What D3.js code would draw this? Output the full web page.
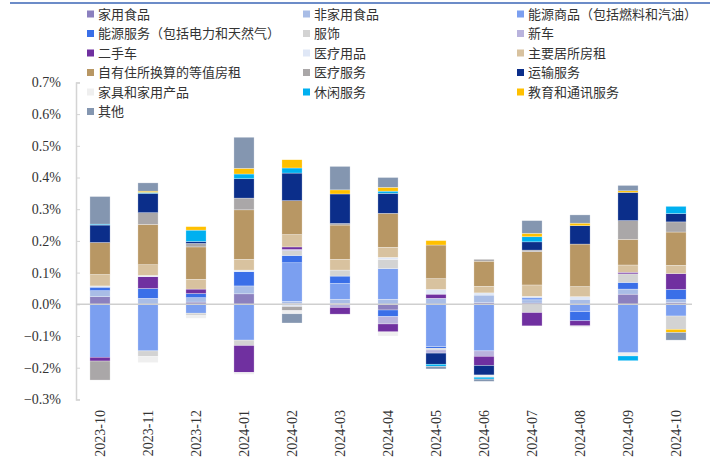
<!DOCTYPE html>
<html>
<head>
<meta charset="utf-8">
<script src="https://cdn.jsdelivr.net/npm/d3@7"></script>
<style>
    body { margin: 0; background: #fff; }
    .axis-num { font-family: "Liberation Serif", "Times New Roman", serif; font-size: 14px; fill: #333; }
    .legend-text { font-family: "Noto Sans CJK SC", sans-serif; font-size: 13px; fill: #333; }
</style>
</head>
<body>
<svg id="chart" width="715" height="461"></svg>
<script>
const months = ["2023-10", "2023-11", "2023-12", "2024-01", "2024-02", "2024-03", "2024-04",
    "2024-05", "2024-06", "2024-07", "2024-08", "2024-09", "2024-10"];

const categories = ["家用食品", "非家用食品", "能源商品（包括燃料和汽油）", "能源服务（包括电力和天然气）",
    "服饰", "新车", "二手车", "医疗用品", "主要居所房租", "自有住所换算的等值房租", "医疗服务",
    "运输服务", "家具和家用产品", "休闲服务", "教育和通讯服务", "其他"];

const colors = ["#8b80bf", "#a9bde6", "#7b9ff0", "#3a6fe8", "#d3d3d3", "#b9b3dd", "#7030a0", "#dfe7f6",
    "#d8c29f", "#b89764", "#aaa7a8", "#0b2e8a", "#efefef", "#00b0f0", "#ffc000", "#8496b0"];

// contributions in percentage points, one array per category
const homeFood    = [0.024, 0, 0.007, 0.033, 0.003, 0.003, -0.018, 0, 0.005, 0.004, 0, 0.032, 0.005];
const awayFood    = [0.019, 0.019, 0.014, 0.025, 0.006, 0.013, 0.016, 0.019, 0.024, 0.010, 0.016, 0.016, 0.010];
const energyGoods = [-0.167, -0.147, -0.028, -0.113, 0.122, 0.050, 0.097, -0.134, -0.147, 0.008, -0.023, -0.153, -0.037];
const energyServ  = [0.011, 0.031, 0.013, 0.045, 0.023, 0.023, -0.021, -0.005, 0, 0, -0.029, 0.021, 0.032];
const apparel     = [0, -0.018, -0.008, -0.017, 0.015, 0.019, 0.029, -0.005, 0, -0.026, 0, 0.027, -0.042];
const newCars     = [0, 0, 0, 0, 0.004, -0.010, -0.023, -0.010, -0.017, 0, 0, 0, 0];
const usedCars    = [-0.012, 0.037, 0.014, -0.085, 0.008, -0.021, -0.025, 0.013, -0.029, -0.042, -0.016, 0.005, 0.050];
const medGoods    = [0.004, 0.004, 0, 0.005, -0.007, 0, 0.006, 0.015, 0.007, 0.003, 0.008, 0, 0];
const rent        = [0.036, 0.034, 0.031, 0.034, 0.039, 0.034, 0.032, 0.034, 0.021, 0.036, 0.032, 0.023, 0.026];
const oer         = [0.101, 0.127, 0.102, 0.156, 0.107, 0.108, 0.107, 0.106, 0.079, 0.105, 0.134, 0.081, 0.105];
const medServ     = [-0.060, 0.037, 0.011, 0.037, -0.013, 0.005, 0, 0, 0.006, 0.005, 0, 0.059, 0.032];
const transport   = [0.055, 0.061, 0.006, 0.061, 0.087, 0.093, 0.063, -0.035, -0.030, 0.026, 0.058, 0.089, 0.026];
const furnishings = [0, -0.019, -0.008, -0.006, -0.010, 0, -0.013, 0, -0.007, 0, -0.004, -0.010, 0];
const recreation  = [0.003, 0.003, 0.036, 0.015, 0.016, 0, 0.007, -0.007, -0.006, 0.016, 0, -0.015, 0.023];
const education   = [0, 0.004, 0.011, 0.018, 0.026, 0.013, 0.012, 0.014, 0, 0.011, 0.008, 0.005, -0.010];
const other       = [0.087, 0.026, 0, 0.098, -0.029, 0.074, 0.031, -0.008, -0.007, 0.040, 0.026, 0.017, -0.024];

const series = [homeFood, awayFood, energyGoods, energyServ, apparel, newCars, usedCars, medGoods,
    rent, oer, medServ, transport, furnishings, recreation, education, other];

const yTicks = [-0.3, -0.2, -0.1, 0, 0.1, 0.2, 0.3, 0.4, 0.5, 0.6, 0.7];

// build rows for d3.stack
const rows = months.map((m, i) => {
    const row = { month: m };
    categories.forEach((c, j) => { row[c] = series[j][i]; });
    return row;
});

const svg = d3.select("#chart");

// top rule
svg.append("line")
    .attr("x1", 10).attr("x2", 710)
    .attr("y1", 3).attr("y2", 3)
    .attr("stroke", "#6c8cc8")
    .attr("stroke-width", 2);

const xScale = d3.scaleBand()
    .domain(months)
    .range([76, 700])
    .paddingInner(0.58)
    .paddingOuter(0.29);

const yScale = d3.scaleLinear()
    .domain([-0.3, 0.7])
    .range([399.4, 82.4]);

const color = d3.scaleOrdinal().domain(categories).range(colors);

const stacked = d3.stack()
    .keys(categories)
    .offset(d3.stackOffsetDiverging)(rows);

// y axis
const yAxis = svg.append("g")
    .attr("transform", "translate(76,0)")
    .call(d3.axisRight(yScale).tickValues(yTicks).tickSize(4).tickFormat(""));
yAxis.select(".domain").attr("stroke", "#d4d4d4").attr("stroke-width", 1.5);
yAxis.selectAll(".tick line").attr("stroke", "#d4d4d4");

svg.append("g")
    .selectAll("text")
    .data(yTicks)
    .enter().append("text")
    .attr("class", "axis-num")
    .attr("x", 61)
    .attr("y", d => yScale(d))
    .attr("dy", "0.35em")
    .attr("text-anchor", "end")
    .text(d => d3.format(".1f")(d) + "%");

// bars
svg.append("g")
    .selectAll("g")
    .data(stacked)
    .enter().append("g")
    .attr("fill", d => color(d.key))
    .selectAll("rect")
    .data(d => d)
    .enter().append("rect")
    .attr("x", d => xScale(d.data.month))
    .attr("width", xScale.bandwidth())
    .attr("y", d => yScale(Math.max(d[0], d[1])))
    .attr("height", d => Math.abs(yScale(d[0]) - yScale(d[1])))
    .attr("stroke", "#fff")
    .attr("stroke-opacity", 0.6)
    .attr("stroke-width", 0.5);

// zero line
svg.append("line")
    .attr("x1", 76).attr("x2", 692)
    .attr("y1", yScale(0)).attr("y2", yScale(0))
    .attr("stroke", "#cfcfcf")
    .attr("stroke-width", 1.5);

// x labels, rotated
svg.append("g")
    .selectAll("text")
    .data(months)
    .enter().append("text")
    .attr("class", "axis-num")
    .attr("transform", d => `translate(${xScale(d) + xScale.bandwidth() / 2},410) rotate(-90)`)
    .attr("dy", "0.35em")
    .attr("text-anchor", "end")
    .text(d => d);

// legend, three columns
const legendX = [87, 303, 517];
const legend = svg.append("g")
    .selectAll("g")
    .data(categories)
    .enter().append("g")
    .attr("transform", (d, i) => `translate(${legendX[i % 3]},${14 + Math.floor(i / 3) * 19.5})`);

legend.append("rect")
    .attr("x", 0).attr("y", -3.5)
    .attr("width", 7).attr("height", 7)
    .attr("fill", d => color(d));

legend.append("text")
    .attr("class", "legend-text")
    .attr("x", 11)
    .attr("dy", "0.35em")
    .text(d => d);
</script>
</body>
</html>
